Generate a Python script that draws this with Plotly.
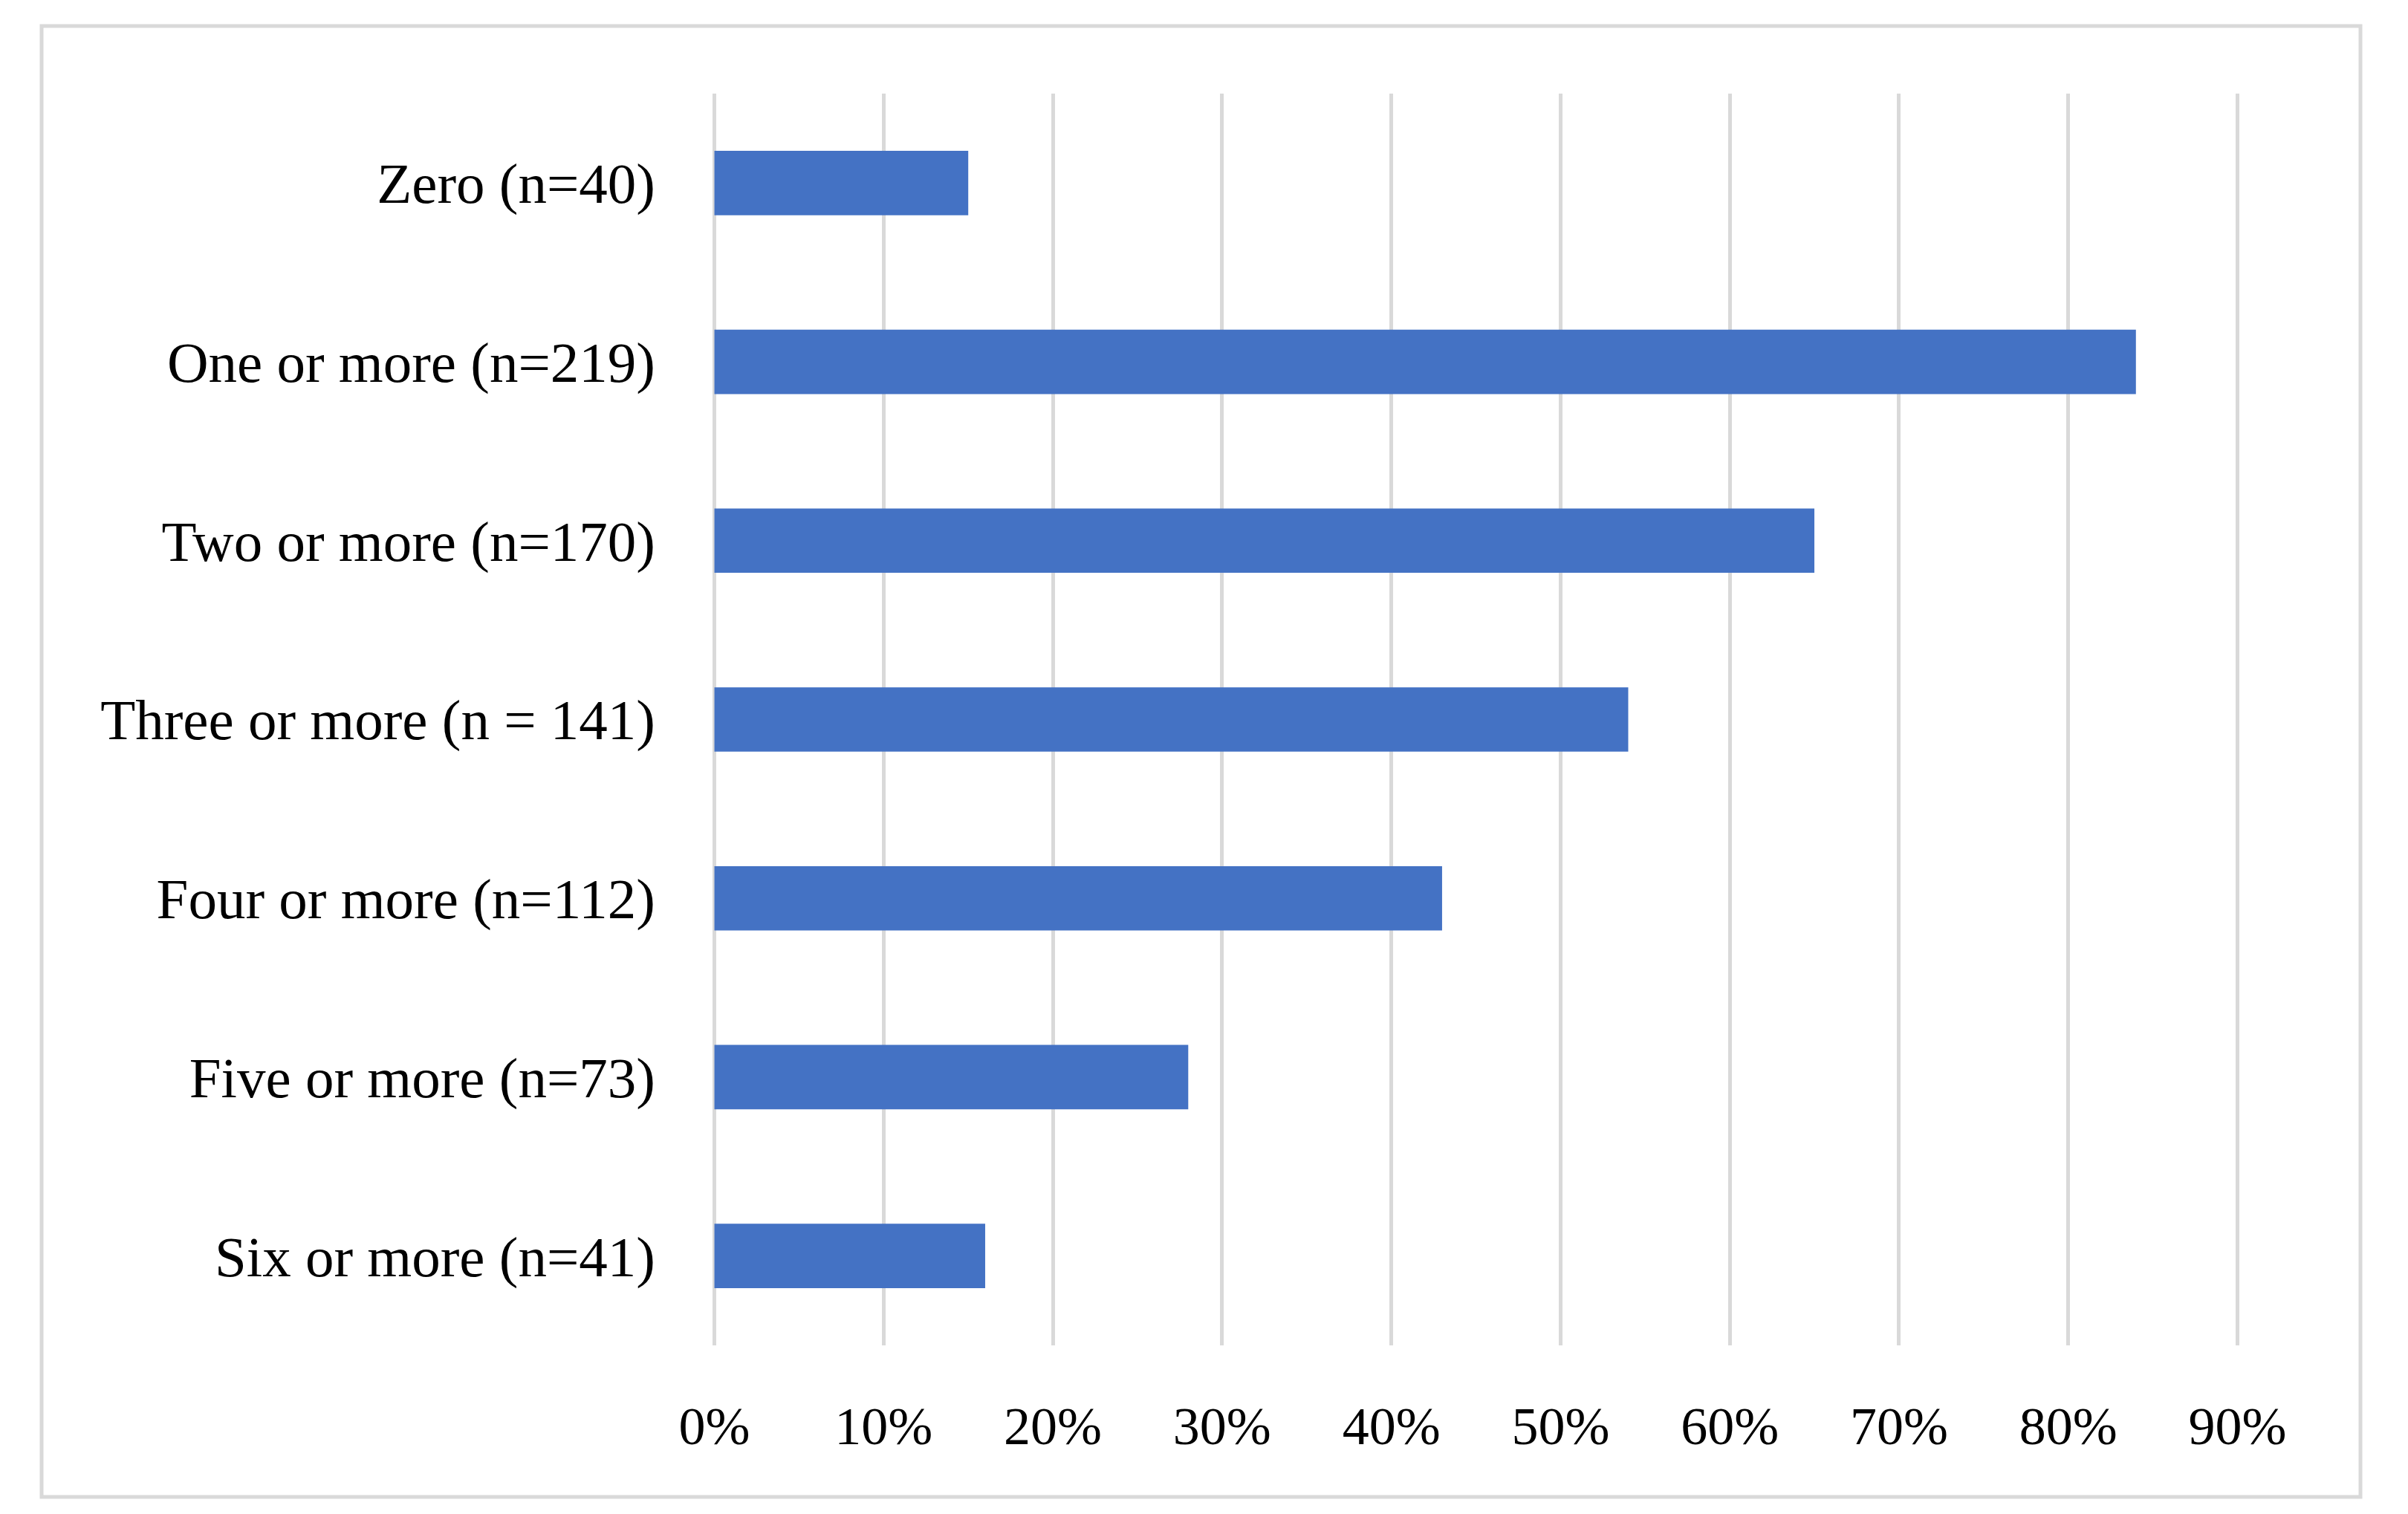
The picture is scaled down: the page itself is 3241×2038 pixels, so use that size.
import plotly.graph_objects as go

categories = [
    "Zero (n=40)",
    "One or more (n=219)",
    "Two or more (n=170)",
    "Three or more (n = 141)",
    "Four or more (n=112)",
    "Five or more (n=73)",
    "Six or more (n=41)",
]
values = [0.15, 0.84, 0.65, 0.54, 0.43, 0.28, 0.16]
tick_vals = [0, 0.1, 0.2, 0.3, 0.4, 0.5, 0.6, 0.7, 0.8, 0.9]

W, H = 3241, 2038
L, R, T, B = 949, 233, 118, 235
FONT = "Palatino Linotype, Book Antiqua, Palatino, Liberation Serif, serif"

fig = go.Figure(
    go.Bar(
        x=values,
        y=categories,
        orientation="h",
        marker=dict(color="#4472c4", line=dict(width=0)),
        hoverinfo="x+y",
    )
)

pw = W - L - R
ph = H - T - B
bx0, bx1, by0, by1 = 48, 3169, 27, 2007

fig.update_layout(
    width=W,
    height=H,
    margin=dict(l=L, r=R, t=T, b=B, pad=0),
    paper_bgcolor="white",
    plot_bgcolor="white",
    bargap=0.64,
    showlegend=False,
    font=dict(family=FONT, color="black"),
    xaxis=dict(
        range=[-0.002, 0.902],
        tickvals=tick_vals,
        tickformat=".0%",
        showgrid=True,
        gridcolor="#d9d9d9",
        gridwidth=4.5,
        zeroline=False,
        showline=False,
        ticks="",
        ticklabelstandoff=60,
        tickfont=dict(size=72, family=FONT, color="black"),
        fixedrange=True,
    ),
    yaxis=dict(
        categoryorder="array",
        categoryarray=categories,
        autorange="reversed",
        showgrid=False,
        zeroline=False,
        showline=False,
        ticks="",
        ticklabelstandoff=74,
        tickfont=dict(size=77, family=FONT, color="black"),
        fixedrange=True,
    ),
    shapes=[
        dict(
            type="rect",
            xref="paper",
            yref="paper",
            x0=(bx0 - L) / pw,
            x1=(bx1 - L) / pw,
            y0=(H - B - by1) / ph,
            y1=(H - B - by0) / ph,
            line=dict(color="#d9d9d9", width=5),
            fillcolor="rgba(0,0,0,0)",
            layer="below",
        )
    ],
)

fig.write_html("out.html")
